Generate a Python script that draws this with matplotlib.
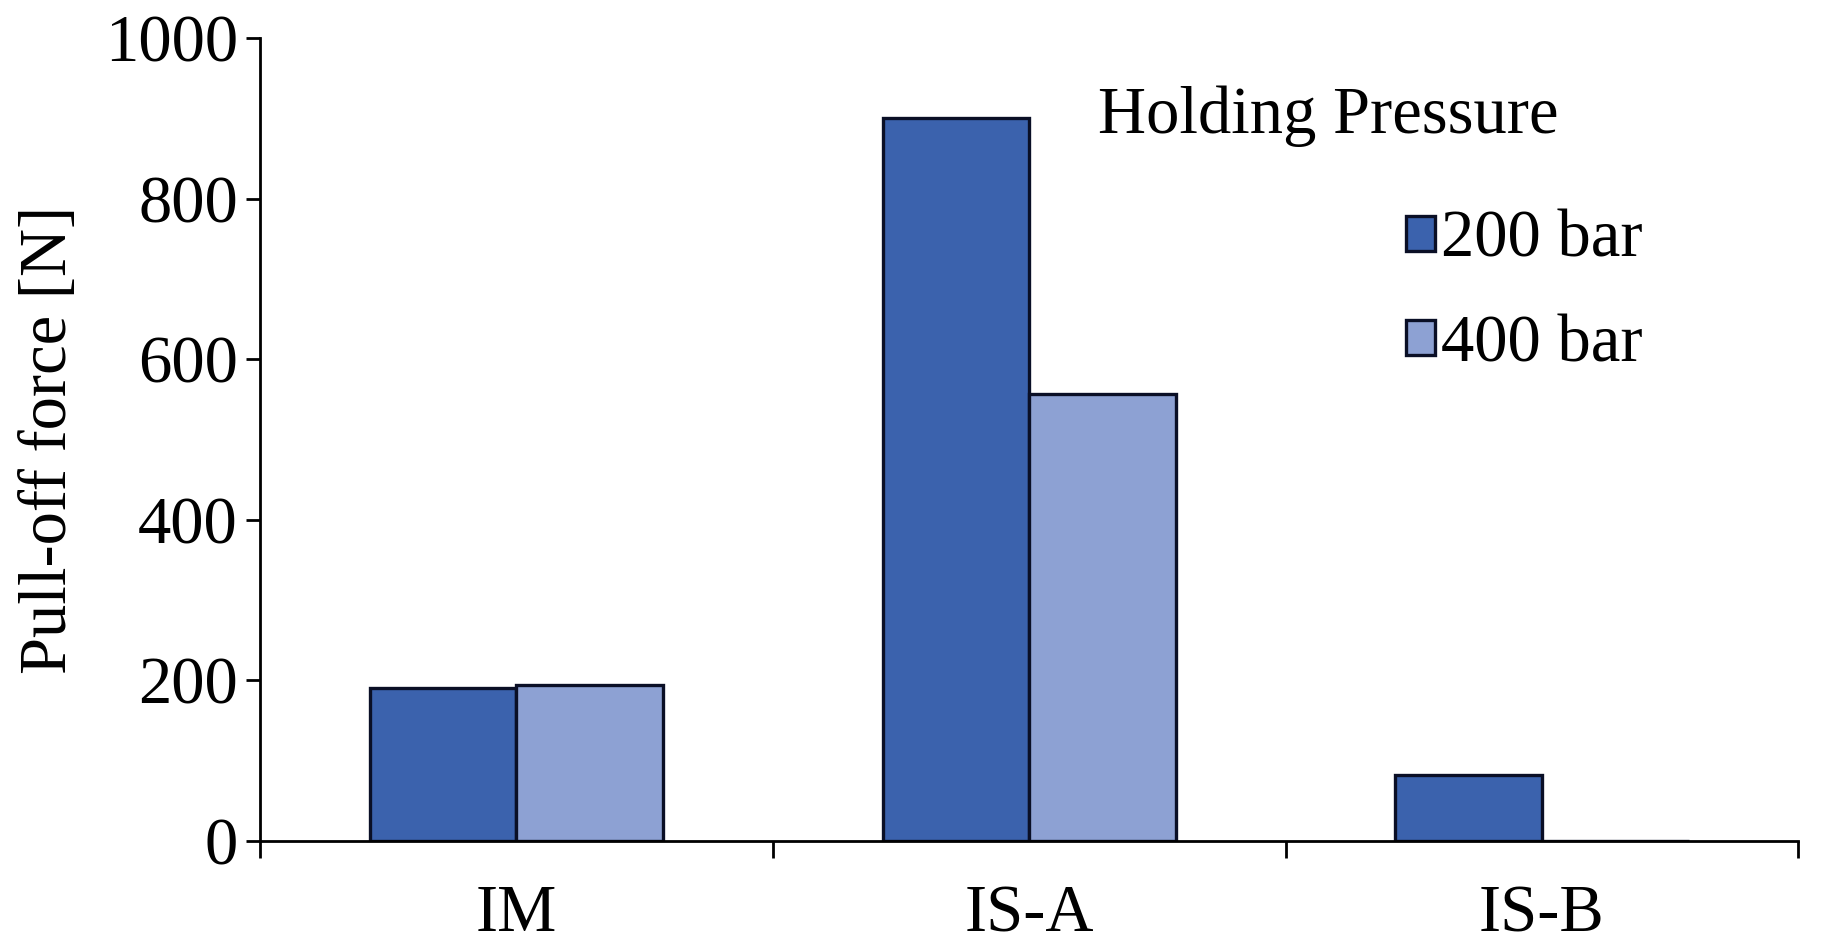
#!/usr/bin/python3

"""Plots the pull-off force for each process and holding pressure."""

import matplotlib
matplotlib.use('Agg')
import matplotlib.pyplot as plt
import numpy as np

CATEGORIES = ['IM', 'IS-A', 'IS-B']
SERIES = ['200 bar', '400 bar']
FORCE_200 = [191, 900, 82]
FORCE_400 = [194, 557, 0]
Y_TICKS = [0, 200, 400, 600, 800, 1000]


def main():
    """Plots a grouped bar chart of the pull-off force."""

    # Figure
    plt.rcParams['font.family'] = ['Liberation Serif', 'DejaVu Serif']
    fig = plt.figure(figsize=(18.22, 9.52), dpi=100)
    axes = fig.add_axes([0.1427, 0.1166, 0.8443, 0.8434])
    size = 48

    # Bars
    x = np.arange(len(CATEGORIES))
    width = 0.286
    axes.bar(x - width / 2, FORCE_200, width, color='#3b62ad',
             edgecolor='#0a0f26', linewidth=2.4, label=SERIES[0])
    axes.bar(x + width / 2, FORCE_400, width, color='#8da1d3',
             edgecolor='#0a0f26', linewidth=2.4, label=SERIES[1])

    # Axes
    axes.set_xlim(-0.5, len(CATEGORIES) - 0.5)
    axes.set_ylim(0, 1000)
    axes.set_yticks(Y_TICKS)
    axes.set_xticks(x)
    axes.set_xticklabels(CATEGORIES)
    axes.set_xticks(np.arange(len(CATEGORIES) + 1) - 0.5, minor=True)
    axes.tick_params(axis='x', which='major', length=0, pad=31,
                     labelsize=size)
    axes.tick_params(axis='x', which='minor', length=12, width=2,
                     direction='out')
    axes.tick_params(axis='y', length=10, width=2, pad=6, labelsize=size)
    axes.set_ylabel('Pull-off force [N]', fontsize=size, labelpad=18)
    for side in ['top', 'right']:
        axes.spines[side].set_visible(False)
    for side in ['left', 'bottom']:
        axes.spines[side].set_linewidth(2)

    # Legend
    axes.text(0.545, 0.903, 'Holding Pressure', transform=axes.transAxes,
              fontsize=size, va='center', ha='left')
    axes.legend(loc='upper left', bbox_to_anchor=(0.745, 0.786),
                frameon=False, fontsize=size, handlelength=0.43,
                handleheight=0.43, handletextpad=0.1, labelspacing=0.65,
                borderpad=0, borderaxespad=0)

    # Save
    fig.savefig('out.png', dpi=100)
    plt.close(fig)


if __name__ == '__main__':
    main()
